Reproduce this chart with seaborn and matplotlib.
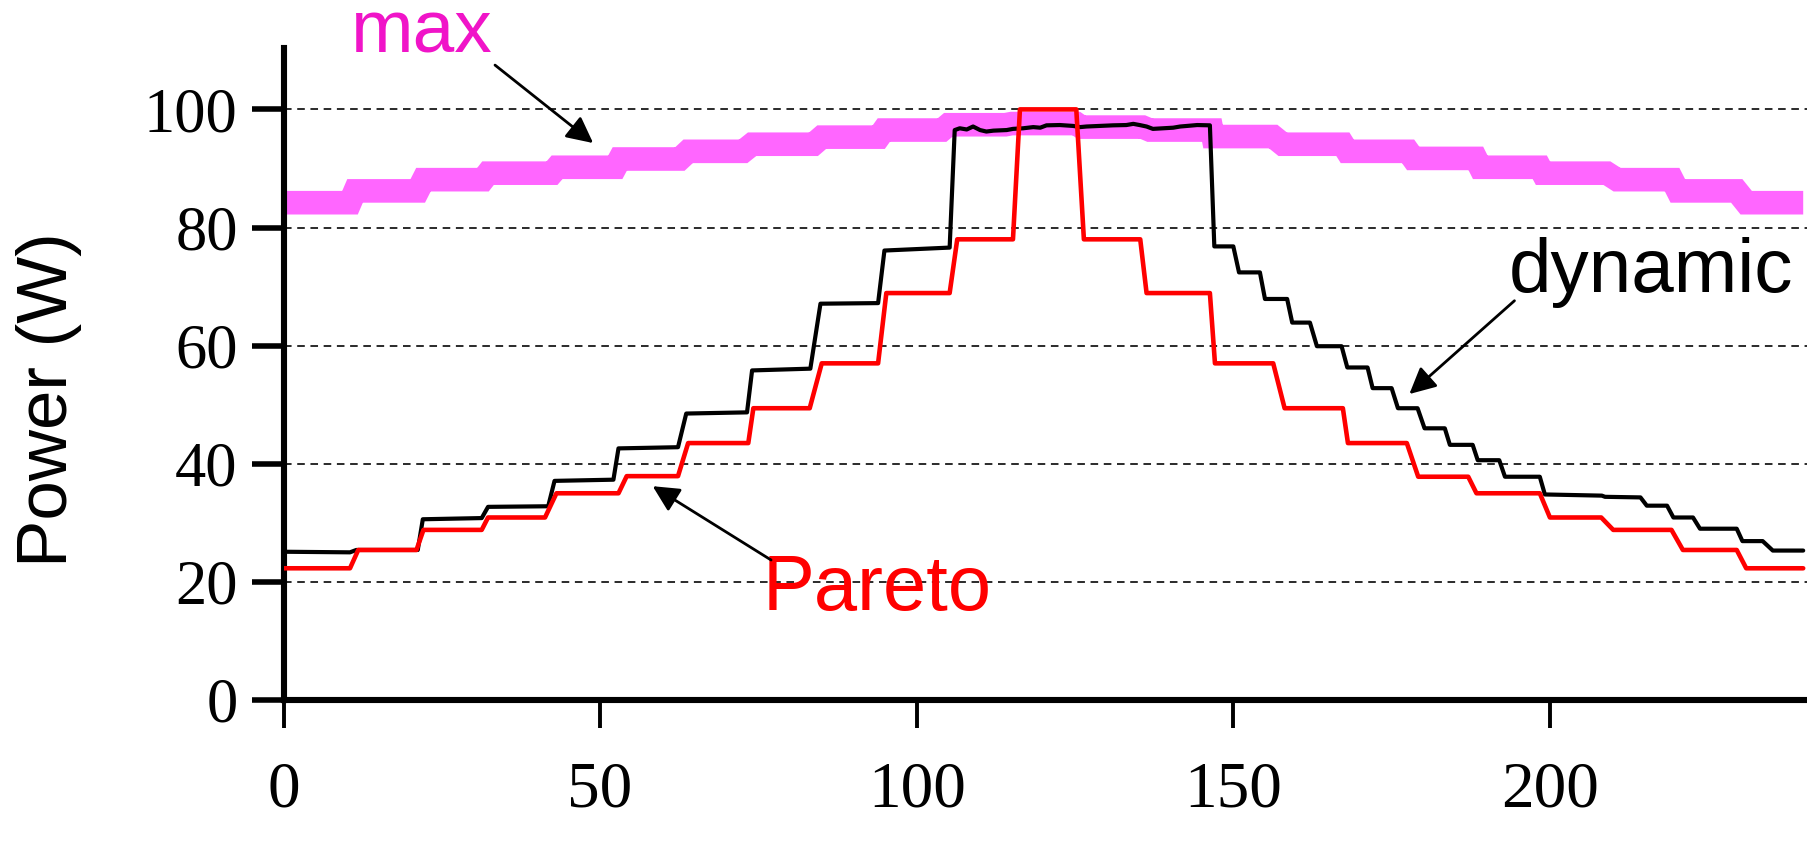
import matplotlib
matplotlib.use("Agg")
import matplotlib.pyplot as plt
import seaborn as sns
import pandas as pd

# ---------------- data ----------------
max_start = [0.0, 11.3, 22.1, 32.3, 43.2, 53.1, 63.9, 74.0, 85.0, 94.8, 105.0, 115.0,
             126.0, 136.8, 146.8, 157.8, 168.0, 178.4, 189.0, 198.9, 210.6, 220.2, 231.0]
max_end = [10.5, 21.2, 31.5, 42.4, 52.4, 62.6, 72.6, 83.7, 94.0, 104.0, 114.0, 125.2,
           135.7, 146.6, 156.3, 167.3, 177.6, 188.3, 198.4, 209.0, 219.3, 229.5, 240.0]
max_level = [84.2, 86.2, 88.1, 89.2, 90.2, 91.6, 92.9, 94.1, 95.3, 96.5, 97.4, 97.6,
             97.0, 96.5, 95.4, 94.1, 92.9, 91.7, 90.2, 89.2, 88.1, 86.2, 84.2]

pareto_start = [0.0, 11.8, 22.1, 32.3, 43.1, 54.2, 63.9, 74.2, 85.0, 95.2, 106.4, 116.3,
                126.4, 136.3, 147.1, 158.1, 168.1, 179.2, 188.4, 200.0, 210.0, 221.0, 231.0]
pareto_end = [10.5, 21.0, 31.3, 41.3, 52.9, 62.3, 73.4, 83.1, 93.9, 105.2, 115.2, 125.2,
              135.3, 146.3, 156.3, 167.3, 177.4, 187.1, 198.4, 208.1, 219.2, 229.5, 240.0]
pareto_level = [22.3, 25.4, 28.8, 30.9, 35.0, 37.9, 43.5, 49.4, 57.0, 68.9, 78.0, 100.0,
                78.0, 68.9, 57.0, 49.4, 43.5, 37.8, 35.0, 30.9, 28.8, 25.4, 22.3]

dynamic_x = [0.0, 10.5, 11.5, 21.2, 22.0, 31.3, 32.3, 41.8, 42.8, 52.1, 52.9, 62.3,
             63.6, 73.2, 74.0, 83.2, 84.8, 93.9, 94.9, 105.2, 106.0, 106.8, 107.9,
             108.9, 110.0, 111.0, 112.1, 114.2, 115.2, 116.8, 118.4, 119.5, 120.5,
             122.6, 124.7, 125.8, 126.8, 128.9, 131.0, 133.1, 134.2, 135.2, 136.3,
             137.3, 138.9, 140.5, 141.6, 142.7, 144.3, 146.3, 147.0, 150.0, 150.9,
             154.2, 155.0, 158.5, 159.3, 162.1, 163.2, 167.1, 168.0, 171.2, 172.0,
             175.0, 176.0, 179.1, 180.2, 183.4, 184.2, 187.8, 188.6, 192.0, 192.9,
             198.4, 199.2, 208.2, 208.7, 214.3, 215.3, 218.5, 219.5, 222.6, 223.7,
             229.5, 230.4, 233.6, 235.2, 240.0]
dynamic_y = [25.1, 25.0, 25.4, 25.4, 30.6, 30.8, 32.7, 32.8, 37.1, 37.3, 42.6, 42.8,
             48.5, 48.7, 55.8, 56.1, 67.1, 67.2, 76.1, 76.6, 96.5, 96.8, 96.6,
             97.1, 96.5, 96.25, 96.4, 96.5, 96.7, 96.8, 97.0, 96.9, 97.3,
             97.35, 97.2, 97.0, 97.1, 97.2, 97.3, 97.35, 97.55, 97.35, 97.1,
             96.7, 96.8, 96.9, 97.1, 97.2, 97.35, 97.3, 76.8, 76.8, 72.4,
             72.4, 67.9, 67.9, 63.9, 63.9, 59.9, 59.9, 56.3, 56.3, 52.8,
             52.8, 49.4, 49.4, 46.0, 46.0, 43.2, 43.2, 40.6, 40.6, 37.8,
             37.8, 34.8, 34.6, 34.4, 34.3, 32.9, 32.9, 30.9, 30.9, 29.0,
             29.0, 26.9, 26.9, 25.3, 25.3]

y_ticks = [0, 20, 40, 60, 80, 100]
x_ticks = [0, 50, 100, 150, 200]


def plateau_frame(starts, ends, levels):
    xs, ys = [], []
    for s, e, v in zip(starts, ends, levels):
        xs += [s, e]
        ys += [v, v]
    return pd.DataFrame({"x": xs, "y": ys})


max_df = plateau_frame(max_start, max_end, max_level)
pareto_df = plateau_frame(pareto_start, pareto_end, pareto_level)
dyn_df = pd.DataFrame({"x": dynamic_x, "y": dynamic_y})

# ---------------- style ----------------
sns.set_theme(style="white")
plt.rcParams["font.family"] = ["Liberation Sans", "DejaVu Sans"]
plt.rcParams["text.color"] = "black"
plt.rcParams["axes.labelcolor"] = "black"

fig = plt.figure(figsize=(18.07, 8.46), dpi=100)
ax = fig.add_axes([0.1569, 0.1726, 0.8431, 0.7707])

sns.lineplot(data=max_df, x="x", y="y", sort=False, estimator=None, ax=ax,
             color="#FF66FF", linewidth=17, solid_capstyle="butt",
             solid_joinstyle="miter", zorder=2)
sns.lineplot(data=dyn_df, x="x", y="y", sort=False, estimator=None, ax=ax,
             color="black", linewidth=3.0, zorder=3)
sns.lineplot(data=pareto_df, x="x", y="y", sort=False, estimator=None, ax=ax,
             color="#FF0000", linewidth=3.3, zorder=4)

ax.set_xlim(0, 240.6)
ax.set_ylim(0, 110.4)
ax.set_yticks(y_ticks)
ax.set_xticks(x_ticks)
ax.set_yticklabels([str(v) for v in y_ticks], family="Liberation Serif", fontsize=45)
ax.set_xticklabels([str(v) for v in x_ticks], family="Liberation Serif", fontsize=47)

ax.yaxis.grid(True, linestyle=(0, (3.9, 2.9)), color="#2a2a2a", linewidth=1.4)
ax.xaxis.grid(False)
ax.set_axisbelow(True)

for side in ["top", "right"]:
    ax.spines[side].set_visible(False)
for side in ["left", "bottom"]:
    ax.spines[side].set_linewidth(4.4)
    ax.spines[side].set_color("black")

ax.tick_params(axis="y", direction="out", length=23, width=4.0, pad=10,
               colors="black", left=True)
ax.tick_params(axis="x", direction="out", length=20, width=2.8, pad=24,
               colors="black", bottom=True)

ax.set_xlabel("")
ax.set_ylabel("Power (W)", fontsize=51, family="Liberation Sans", color="black")
ax.yaxis.set_label_coords(-0.132, 0.46)

arrow = dict(arrowstyle="-|>", color="black", lw=2.0, mutation_scale=40,
             shrinkA=0, shrinkB=0)
ax.text(21.9, 109.6, "max", color="#F014C8", fontsize=54, ha="center",
        va="baseline", clip_on=False)
ax.annotate("", xy=(48.9, 94.3), xytext=(33.4, 107.5), arrowprops=arrow,
            annotation_clip=False)

ax.text(216.0, 69.0, "dynamic", color="black", fontsize=55, ha="center",
        va="baseline")
ax.annotate("", xy=(177.8, 51.8), xytext=(194.4, 67.6), arrowprops=arrow)

ax.text(93.8, 15.2, "Pareto", color="#FF0000", fontsize=56, ha="center",
        va="baseline")
ax.annotate("", xy=(58.3, 36.2), xytext=(77.0, 23.7), arrowprops=arrow)

fig.savefig("out.png", dpi=100)
